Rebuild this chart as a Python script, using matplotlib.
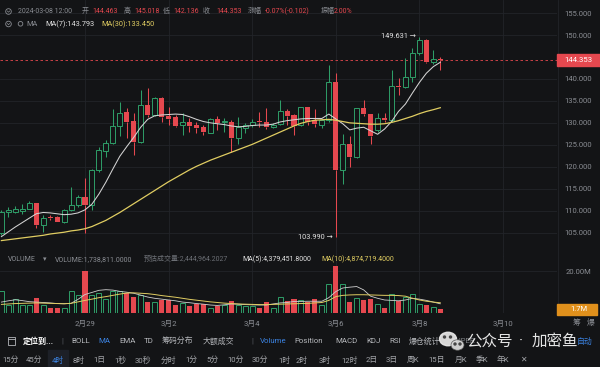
import matplotlib
matplotlib.use('Agg')
import matplotlib.pyplot as plt
from matplotlib.patches import Rectangle, Ellipse, Circle
import numpy as np

# ---------------- data (4h candles, index 0 = 2024-02-29 00:00) ----------------
bar_index = list(range(-12, 52))
opens = [104.9, 109.6, 109.8, 110.0, 110.5, 111.7, 106.75, 108.6, 108.5, 107.5, 110.2, 111.3,
         113.2, 111.3, 119.3, 123.7, 125.5, 129.3, 132.5, 130.5, 125.7, 134.1, 131.8, 135.6,
         131.6, 131.3, 129.5, 130.3, 129.5, 129.0, 127.8, 130.8, 130.1, 130.3, 126.5, 128.9,
         129.5, 130.5, 130.3, 129.0, 129.7, 132.7, 131.8, 129.5, 133.5, 130.6, 129.5, 130.6,
         139.4, 119.3, 125.3, 122.3, 133.3, 132.0, 128.4, 131.2, 130.6, 138.4, 138.2, 140.4,
         146.0, 148.9, 143.9, 144.463]
highs = [110.2, 110.9, 111.1, 111.5, 112.1, 111.8, 109.0, 109.0, 108.7, 110.5, 115.5, 113.6,
         117.4, 119.6, 124.6, 126.2, 133.1, 134.8, 133.3, 132.3, 137.5, 137.9, 135.9, 135.8,
         133.7, 131.8, 132.2, 131.0, 130.3, 129.5, 131.0, 131.6, 131.0, 130.7, 131.4, 129.9,
         130.8, 132.5, 133.3, 129.9, 135.2, 133.1, 132.0, 133.7, 133.7, 133.1, 130.9, 143.2,
         141.4, 127.5, 127.0, 133.4, 135.1, 132.1, 132.3, 132.2, 142.0, 140.1, 144.7, 147.0,
         149.631, 149.0, 146.7, 145.018]
lows = [104.5, 108.6, 109.4, 109.3, 110.3, 106.0, 105.2, 107.9, 107.4, 107.3, 110.0, 110.9,
        104.9, 110.2, 118.9, 122.3, 125.3, 126.9, 126.5, 122.7, 125.5, 131.4, 131.5, 130.3,
        129.5, 129.1, 127.2, 128.0, 127.8, 127.2, 127.6, 128.4, 128.0, 123.4, 125.2, 127.6,
        129.1, 129.1, 128.5, 128.8, 129.5, 129.5, 127.2, 129.3, 129.5, 129.0, 128.9, 130.3,
        103.99, 116.1, 120.0, 122.0, 131.5, 125.3, 128.0, 130.3, 130.3, 136.3, 137.9, 139.4,
        145.4, 143.7, 143.5, 142.136]
closes = [109.8, 110.2, 110.3, 110.5, 111.7, 106.75, 108.4, 108.3, 107.5, 110.2, 111.3, 113.2,
          111.3, 119.3, 123.8, 125.5, 129.3, 132.3, 130.3, 125.7, 134.1, 131.8, 135.6, 131.4,
          130.8, 129.3, 130.3, 129.3, 128.8, 128.0, 130.8, 130.0, 130.4, 126.5, 129.0, 129.5,
          130.3, 130.1, 129.0, 129.5, 132.8, 131.6, 129.3, 133.5, 130.3, 129.7, 130.6, 139.4,
          119.3, 125.3, 122.3, 133.3, 132.0, 127.0, 131.0, 130.6, 138.4, 138.1, 140.4, 146.0,
          148.9, 143.9, 144.46, 144.353]
volume_m = [10.3, 4.0, 6.8, 4.0, 3.7, 7.3, 4.0, 2.5, 2.5, 2.5, 10.3, 8.4,
            19.8, 8.4, 9.5, 6.8, 10.5, 10.5, 9.5, 7.6, 8.7, 5.2, 5.2, 6.3,
            6.0, 4.0, 4.8, 3.2, 4.1, 4.1, 2.5, 3.2, 3.7, 5.6, 3.7, 3.2,
            3.2, 2.5, 5.2, 2.5, 7.6, 5.7, 6.8, 6.0, 5.2, 6.8, 3.7, 14.0,
            22.2, 14.0, 5.2, 7.3, 6.0, 6.8, 4.1, 2.5, 9.2, 5.7, 7.6, 9.0,
            4.5, 3.8, 2.9, 1.74]
ma7 = [104.1, 105.2, 106.3, 107.3, 108.3, 109.3, 109.6, 109.5, 109.3, 109.1, 109.2, 109.5,
       110.2, 111.5, 113.8, 116.5, 119.5, 122.4, 124.6, 126.7, 129.0, 130.8, 131.6, 131.8,
       131.9, 132.0, 131.9, 131.4, 130.8, 130.3, 130.0, 129.8, 129.6, 129.3, 129.1, 129.2,
       129.4, 129.5, 129.5, 129.7, 130.2, 130.5, 130.7, 130.9, 131.0, 131.0, 131.0, 132.0,
       130.9, 129.8, 128.4, 128.8, 129.0, 128.2, 127.4, 128.6, 130.3, 132.6, 134.3, 136.8,
       139.2, 141.3, 142.8, 143.793]
ma30 = [103.2, 103.4, 103.6, 103.8, 104.0, 104.2, 104.4, 104.7, 104.9, 105.1, 105.4, 105.6,
        105.9, 106.4, 107.1, 107.8, 108.7, 109.6, 110.6, 111.6, 112.6, 113.6, 114.6, 115.6,
        116.6, 117.5, 118.4, 119.3, 120.1, 120.8, 121.5, 122.1, 122.7, 123.3, 123.9, 124.5,
        125.1, 125.8, 126.5, 127.2, 127.9, 128.6, 129.3, 129.9, 130.3, 130.6, 130.7, 130.8,
        130.6, 130.3, 130.0, 129.9, 129.8, 129.7, 129.7, 129.8, 130.1, 130.5, 131.0, 131.5,
        132.1, 132.6, 133.0, 133.45]
vol_ma5 = [5.2, 5.8, 6.3, 5.9, 5.4, 5.2, 5.0, 4.8, 4.5, 4.4, 4.6, 6.5,
           8.8, 9.8, 10.8, 11.1, 10.9, 10.3, 9.9, 9.4, 8.5, 7.6, 7.0, 6.6,
           6.2, 5.8, 5.2, 4.9, 4.5, 4.2, 3.8, 3.6, 3.9, 4.3, 4.2, 4.0,
           3.9, 3.8, 3.8, 4.3, 4.8, 5.0, 5.5, 5.5, 5.6, 5.6, 5.6, 7.3,
           10.2, 11.9, 12.3, 12.6, 11.0, 8.0, 7.0, 6.2, 6.0, 5.8, 6.2, 7.0,
           6.6, 6.0, 5.2, 4.38]
vol_ma10 = [4.1, 4.3, 4.5, 4.6, 4.7, 4.8, 4.7, 4.6, 4.5, 4.4, 4.6, 5.3,
            6.0, 6.6, 7.3, 7.8, 8.4, 9.0, 9.5, 9.6, 9.4, 9.2, 8.8, 8.3,
            7.9, 7.5, 7.0, 6.5, 6.1, 5.7, 5.3, 5.0, 4.7, 4.5, 4.3, 4.2,
            4.1, 4.0, 4.0, 4.1, 4.2, 4.3, 4.4, 4.5, 4.6, 4.8, 5.0, 6.0,
            7.8, 8.4, 8.6, 8.7, 8.7, 8.6, 8.5, 8.4, 8.4, 8.3, 8.0, 7.0,
            6.2, 5.6, 5.2, 4.87]
date_tick_index = [0, 12, 24, 36, 48, 60]
date_tick_labels = ['2月29', '3月2', '3月4', '3月6', '3月8', '3月10']
price_ticks = [105, 110, 115, 120, 125, 130, 135, 140, 150, 155]
last_price = 144.353
high_mark = (48, 149.631)
low_mark = (36, 103.990)

# ---------------- style ----------------
BG = '#131416'
GRID = '#222429'
RED = '#e5484f'
GREEN = '#2e9e68'
GREY = '#8a8d93'
LIGHT = '#b4b6ba'
WHITE = '#e2e2e2'
YELLOW = '#e0cd62'
BLUE = '#3b82e0'
FONT = ['Roboto', 'Noto Sans CJK SC', 'DejaVu Sans']
plt.rcParams['font.family'] = FONT

W, H = 600, 367
fig = plt.figure(figsize=(W / 100, H / 100), dpi=100, facecolor=BG)

def frac_rect(x0, y0, x1, y1):
    return [x0 / W, 1 - y1 / H, (x1 - x0) / W, (y1 - y0) / H]

x = np.array(bar_index, dtype=float)
o = np.array(opens); h = np.array(highs); l = np.array(lows); c = np.array(closes)
up = c >= o
cols = np.where(up, GREEN, RED)
lo_b = np.minimum(o, c); hi_b = np.maximum(o, c)
hgt = np.maximum(hi_b - lo_b, 0.12)
bw = 0.72

# price panel
ax = fig.add_axes(frac_rect(0, 0, 557, 252), facecolor=BG)
ax.set_xlim(-12.2, 67.75)
ax.set_ylim(100.6, 157.97)
ax.set_xticks(date_tick_index)
ax.set_yticks(price_ticks)
ax.grid(True, color=GRID, lw=0.6)
ax.set_axisbelow(True)
ax.yaxis.tick_right()
ax.tick_params(axis='y', length=0, pad=5, labelsize=5.5, labelcolor=GREY)
ax.tick_params(axis='x', length=0, labelbottom=False)
ax.set_yticklabels([f'{t:.3f}' for t in price_ticks])
for s in ax.spines.values():
    s.set_visible(False)

ax.vlines(x, hi_b, h, color=cols, lw=0.75, zorder=2)
ax.vlines(x, l, lo_b, color=cols, lw=0.75, zorder=2)
ax.bar(x[up], hgt[up], bottom=lo_b[up], width=bw, facecolor=BG, edgecolor=GREEN, linewidth=0.7, zorder=3)
ax.bar(x[~up], hgt[~up], bottom=lo_b[~up], width=bw, color=RED, linewidth=0, zorder=3)
ax.plot(x, ma7, color='#d4d4d4', lw=0.75, zorder=4)
ax.plot(x, ma30, color=YELLOW, lw=0.9, zorder=4)
ax.axhline(last_price, color=RED, lw=0.6, ls=(0, (3, 3)), zorder=1)

ax.text(high_mark[0] - 0.45, high_mark[1], f'{high_mark[1]:.3f} →', ha='right', va='center',
        fontsize=5.3, color=WHITE, family=['Roboto', 'DejaVu Sans'], zorder=5)
ax.text(low_mark[0] - 0.45, low_mark[1], f'{low_mark[1]:.3f} →', ha='right', va='center',
        fontsize=5.3, color=WHITE, family=['Roboto', 'DejaVu Sans'], zorder=5)

# volume panel
ax2 = fig.add_axes(frac_rect(0, 256, 557, 313), facecolor='none')
ax2.set_xlim(-12.2, 67.75)
ax2.set_ylim(0, 57 / 2.1)
v = np.array(volume_m)
ax2.bar(x[up], v[up], width=bw, facecolor=BG, edgecolor=GREEN, linewidth=0.7, zorder=3)
ax2.bar(x[~up], v[~up], width=bw, color=RED, linewidth=0, zorder=3)
ax2.plot(x, vol_ma5, color='#cfcfcf', lw=0.6, zorder=4)
ax2.plot(x, vol_ma10, color=YELLOW, lw=0.7, zorder=4)
ax2.set_xticks(date_tick_index)
ax2.set_xticklabels(date_tick_labels)
ax2.set_yticks([20])
ax2.set_yticklabels(['20.00M'])
ax2.yaxis.tick_right()
ax2.tick_params(axis='y', length=0, pad=6, labelsize=5.5, labelcolor=GREY)
ax2.tick_params(axis='x', length=0, pad=5, labelsize=5.6, labelcolor=GREY)
ax2.grid(True, color=GRID, lw=0.6)
ax2.set_axisbelow(True)
for s in ax2.spines.values():
    s.set_visible(False)

# overlay in pixel coordinates
ov = fig.add_axes([0, 0, 1, 1], facecolor='none')
ov.set_xlim(0, W); ov.set_ylim(H, 0); ov.axis('off')

for ti in date_tick_index:
    px = ax.transData.transform((ti, 0))[0]
    ov.plot([px, px], [252, 256], color=GRID, lw=0.6, zorder=0)
ov.plot([557.5, 557.5], [0, 313], color=GRID, lw=0.6)

# last price tag
py_last = H - ax.transData.transform((0, last_price))[1]
ov.add_patch(Rectangle((557, py_last - 6.3), 43, 12.6, color=RED, zorder=5))
ov.text(578.5, py_last, f'{last_price:.3f}', ha='center', va='center', color='white', fontsize=5.6, zorder=6)

# last volume tag
py_v = H - ax2.transData.transform((0, volume_m[-1]))[1]
ov.add_patch(Rectangle((557, py_v - 5.5), 40, 11, color='#e0901c', zorder=5))
ov.text(579, py_v, '1.7M', ha='center', va='center', color='white', fontsize=5.5, zorder=6)

def t(xp, yp, s, col=GREY, fs=5.3, **kw):
    ov.text(xp, yp, s, ha='left', va='center', color=col, fontsize=fs, **kw)

# header row 1
ov.add_patch(Circle((8.5, 11.5), 2.8, fill=False, ec=GREY, lw=0.6))
ov.plot([7.3, 8.5, 9.7], [11.0, 12.2, 11.0], color=GREY, lw=0.5)
row1 = [(18, '2024-03-08 12:00', GREY), (82, '开', GREY), (92, '144.463', RED), (124, '高', GREY),
        (134, '145.018', RED), (163, '低', GREY), (173, '142.136', RED), (203, '收', GREY),
        (216, '144.353', RED), (248, '涨幅', GREY), (265, '-0.07%(-0.102)', RED),
        (321, '振幅', GREY), (334, '2.00%', RED)]
for xp, s, col in row1:
    t(xp, 11.5, s, col, 5.0)
# header row 2
ov.add_patch(Circle((8.5, 24), 2.8, fill=False, ec=GREY, lw=0.6))
ov.plot([7.3, 8.5, 9.7], [23.5, 24.7, 23.5], color=GREY, lw=0.5)
ov.add_patch(Circle((20.5, 23.8), 2.3, fill=False, ec=GREY, lw=0.6))
t(26, 24, 'MA', GREY)
t(45, 24, 'MA(7):143.793', WHITE)
t(101, 24, 'MA(30):133.450', YELLOW)

# volume legend
t(8, 259.5, 'VOLUME', GREY, 5.0)
t(43, 259.5, '▾', GREY, 5.0)
t(55, 259.5, 'VOLUME:1,738,811.0000', GREY, 5.0)
t(144, 259.5, '预估成交量:2,444,964.2027', '#6c6f75', 5.0)
t(242, 259.5, 'MA(5):4,379,451.8000', WHITE, 5.0)
t(321, 259.5, 'MA(10):4,874,719.4000', YELLOW, 5.0)

# right side icons of date row
t(573, 322, '筹', GREY, 5.6)
t(587, 322, '爆', GREY, 5.6)

# toolbar row
ty = 341
ov.add_patch(Rectangle((7.5, 337), 7.5, 7.5, fill=False, ec=LIGHT, lw=0.6))
ov.plot([7.5, 15], [339.2, 339.2], color=LIGHT, lw=0.6)
t(23, ty, '定位到...', 'white', 5.8, fontweight='bold')
t(61, ty, '|', '#55585e', 5.8)
tools = [(71, 'BOLL', LIGHT), (98, 'MA', BLUE), (119, 'EMA', LIGHT), (144, 'TD', LIGHT),
         (162, '筹码分布', LIGHT), (203, '大额成交', LIGHT), (251, '|', '#55585e'),
         (260, 'Volume', BLUE), (294, 'Position', LIGHT), (335, 'MACD', LIGHT), (366, 'KDJ', LIGHT),
         (389, 'RSI', LIGHT), (409, '爆仓统计', LIGHT), (452, 'SUPER', '#7d8084'), (577, '自动', BLUE)]
for xp, s, col in tools:
    t(xp, ty, s, col, 5.7)

# interval row
by = 359.5
ov.add_patch(Rectangle((48, 350), 20, 17, color='#1d2027', zorder=0))
intervals = [(2, '15分'), (26, '45分'), (52, '4时'), (73, '8时'), (93, '1日'), (114, '1秒'),
             (135, '30秒'), (161, '分时'), (185, '1分'), (206, '5分'), (227, '10分'), (252, '30分'),
             (278, '1时'), (296, '2时'), (319, '3时'), (341, '12时'), (366, '2日'), (386, '3日'),
             (407, '周K'), (428, '15日'), (455, '月K'), (476, '季K'), (497, '年K'), (520, '✕')]
for xp, s in intervals:
    t(xp, by, s, BLUE if s == '4时' else '#a3a5a9', 5.6)

# watermark (overlays the toolbar as in the reference)
ov.add_patch(Ellipse((448, 339), 17, 13.5, color='#e8e8e8', alpha=0.92, zorder=7))
ov.add_patch(Ellipse((457.5, 345), 13, 10.5, fc='#d8d8d8', ec='#555', lw=0.5, alpha=0.95, zorder=8))
for ex, ey in [(444.5, 337), (450.5, 337), (455, 344), (460, 344)]:
    ov.add_patch(Circle((ex, ey), 1.0, color='#444', zorder=9))
ov.text(466, 341, '公众号', ha='left', va='center', color='#f0f0f0', fontsize=11.2, alpha=0.95, zorder=9)
ov.text(521, 341, '·', ha='center', va='center', color='#f0f0f0', fontsize=11.2, alpha=0.95, zorder=9)
ov.text(532, 341, '加密鱼', ha='left', va='center', color='#f0f0f0', fontsize=11.2, alpha=0.95, zorder=9)

fig.savefig('out.png', dpi=100, facecolor=BG)
